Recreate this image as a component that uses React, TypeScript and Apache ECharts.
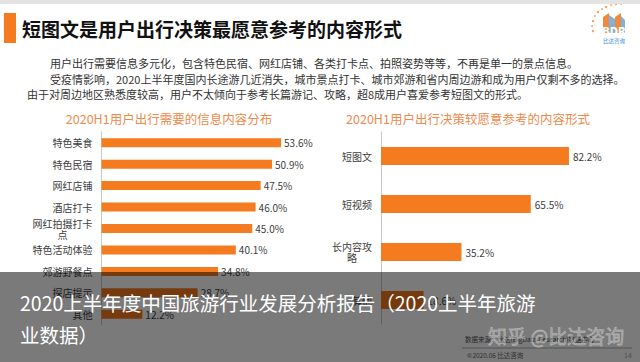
import React, { useEffect, useRef } from "react";
import * as echarts from "echarts";

const pageTitle = "短图文是用户出行决策最愿意参考的内容形式";
const bodyLines = [
  "用户出行需要信息多元化，包含特色民宿、网红店铺、各类打卡点、拍照姿势等等，不再是单一的景点信息。",
  "受疫情影响，2020上半年度国内长途游几近消失，城市景点打卡、城市郊游和省内周边游和成为用户仅剩不多的选择。",
  "由于对周边地区熟悉度较高，用户不太倾向于参考长篇游记、攻略，超8成用户喜爱参考短图文的形式。",
];
const leftTitle = "2020H1用户出行需要的信息内容分布";
const leftCategories = ["特色美食", "特色民宿", "网红店铺", "酒店打卡", "网红拍摄打卡\n点", "特色活动体验", "郊游野餐点", "探店提示", "其他"];
const leftValues = [53.6, 50.9, 47.5, 46.0, 45.0, 40.1, 34.8, 28.7, 12.2];
const rightTitle = "2020H1用户出行决策较愿意参考的内容形式";
const rightCategories = ["短图文", "短视频", "长内容攻\n略", "其他"];
const rightValues = [82.2, 65.5, 35.2, 18.6];
const overlayLines = ["2020上半年度中国旅游行业发展分析报告（2020上半年旅游", "业数据）"];
const footerSource = "数据来源：比达(BigData-Research)数据中心";
const footerCopy = "©2020.06 比达咨询";
const pageNo = "14";
const watermark = "知乎 @比达咨询";

const FONT = "'Noto Sans CJK SC', 'Noto Sans', sans-serif";
const ORANGE = "#F47B20";
const TITLE_ORANGE = "#EE8A4C";

function catFormatter(v: string) {
  if (v.indexOf("\n") < 0) return v;
  return v
    .split("\n")
    .map((l) => "{m|" + l + "}")
    .join("\n");
}

export default function App() {
  const ref = useRef<HTMLDivElement>(null);
  useEffect(() => {
    if (!ref.current) return;
    const chart = echarts.init(ref.current, undefined, { renderer: "svg" });

    const dots: any[] = [];
    const dotPts = [
      [593, 31], [592, 26], [593, 21], [595, 16], [598, 12], [602, 9], [606, 7], [611, 5], [616, 4], [621, 4],
    ];
    dotPts.forEach((p, i) =>
      dots.push({ type: "circle", shape: { cx: p[0], cy: p[1], r: i % 2 ? 0.9 : 1.2 }, style: { fill: "#F5A05A" } })
    );

    const axisLabelBase = {
      fontSize: 10,
      color: "#404040",
      fontFamily: FONT,
      lineHeight: 11,
      margin: 9,
      formatter: catFormatter,
    };

    chart.setOption({
      animation: false,
      backgroundColor: "#ffffff",
      textStyle: { fontFamily: FONT },
      grid: [
        { left: 101.5, top: 132, width: 201, height: 193 },
        { left: 381, top: 132, width: 205.8, height: 192 },
      ],
      xAxis: [
        { gridIndex: 0, type: "value", min: 0, max: 60, show: false },
        { gridIndex: 1, type: "value", min: 0, max: 90, show: false },
      ],
      yAxis: [
        {
          gridIndex: 0,
          type: "category",
          inverse: true,
          data: leftCategories,
          axisLine: { show: true, lineStyle: { color: "#c8c8c8", width: 1 } },
          axisTick: { show: false },
          axisLabel: { ...axisLabelBase, rich: { m: { width: 60, align: "center", fontSize: 10, lineHeight: 11, color: "#404040", fontFamily: FONT } } },
        },
        {
          gridIndex: 1,
          type: "category",
          inverse: true,
          data: rightCategories,
          axisLine: { show: true, lineStyle: { color: "#c8c8c8", width: 1 } },
          axisTick: { show: false },
          axisLabel: { ...axisLabelBase, rich: { m: { width: 40, align: "center", fontSize: 10, lineHeight: 11, color: "#404040", fontFamily: FONT } } },
        },
      ],
      series: [
        {
          type: "bar",
          xAxisIndex: 0,
          yAxisIndex: 0,
          data: leftValues,
          barWidth: 9,
          itemStyle: { color: ORANGE },
          label: {
            show: true,
            position: "right",
            distance: 3,
            fontSize: 10,
            color: "#404040",
            fontFamily: FONT,
            formatter: (p: any) => p.value.toFixed(1) + "%",
          },
        },
        {
          type: "bar",
          xAxisIndex: 1,
          yAxisIndex: 1,
          data: rightValues,
          barWidth: 18,
          itemStyle: { color: ORANGE },
          label: {
            show: true,
            position: "right",
            distance: 4,
            fontSize: 10,
            color: "#404040",
            fontFamily: FONT,
            formatter: (p: any) => p.value.toFixed(1) + "%",
          },
        },
      ],
      graphic: [
        { type: "rect", z: 1, shape: { x: 0, y: 0, width: 640, height: 4 }, style: { fill: "#e4e4e4" } },
        { type: "rect", z: 1, shape: { x: 4, y: 13, width: 12, height: 30 }, style: { fill: "#F47B20" } },
        {
          type: "text",
          z: 1,
          x: 22,
          y: 28,
          style: { text: pageTitle, fontSize: 19, fontWeight: "bold", fill: "#111", fontFamily: FONT, verticalAlign: "middle" },
        },
        { type: "text", z: 1, x: 50, y: 63, style: { text: bodyLines[0], fontSize: 11, fill: "#333", fontFamily: FONT, verticalAlign: "middle" } },
        { type: "text", z: 1, x: 50, y: 78.5, style: { text: bodyLines[1], fontSize: 11, fill: "#333", fontFamily: FONT, verticalAlign: "middle" } },
        { type: "text", z: 1, x: 27, y: 94, style: { text: bodyLines[2], fontSize: 11, fill: "#333", fontFamily: FONT, verticalAlign: "middle" } },
        {
          type: "text",
          z: 1,
          x: 169,
          y: 118,
          style: { text: leftTitle, fontSize: 12.5, fill: TITLE_ORANGE, fontFamily: FONT, align: "center", verticalAlign: "middle" },
        },
        {
          type: "text",
          z: 1,
          x: 468,
          y: 118,
          style: { text: rightTitle, fontSize: 12.5, fill: TITLE_ORANGE, fontFamily: FONT, align: "center", verticalAlign: "middle" },
        },
        // logo
        ...dots,
        { type: "polygon", z: 1, shape: { points: [[603, 33], [603, 17], [609, 13], [609, 33]] }, style: { fill: "#F08A3A" } },
        { type: "polygon", z: 1, shape: { points: [[609, 33], [609, 15], [615, 19], [615, 33]] }, style: { fill: "#7FB2DE" } },
        { type: "polygon", z: 1, shape: { points: [[615, 33], [615, 17], [621, 13], [621, 33]] }, style: { fill: "#F08A3A" } },
        { type: "polygon", z: 1, shape: { points: [[621, 33], [621, 16], [625, 20], [625, 33]] }, style: { fill: "#7FB2DE" } },
        {
          type: "text",
          z: 2,
          x: 614,
          y: 31,
          style: { text: "BDR", fontSize: 10, fontWeight: "bold", fill: "#ffffff", fontFamily: "'DejaVu Sans', sans-serif", align: "center", verticalAlign: "middle" },
        },
        {
          type: "text",
          z: 1,
          x: 614,
          y: 41,
          style: { text: "比达咨询", fontSize: 5.5, fill: "#3E8FD0", fontFamily: FONT, align: "center", verticalAlign: "middle" },
        },
        // footer (under overlay)
        { type: "text", z: 1, x: 465, y: 339, style: { text: footerSource, fontSize: 6.5, fill: "#555", fontFamily: FONT, verticalAlign: "middle" } },
        { type: "line", z: 1, shape: { x1: 462, y1: 348, x2: 632, y2: 348 }, style: { stroke: "#999", lineWidth: 0.8 } },
        { type: "text", z: 1, x: 467, y: 355, style: { text: footerCopy, fontSize: 6.5, fill: "#666", fontFamily: FONT, verticalAlign: "middle" } },
        { type: "text", z: 1, x: 624, y: 355, style: { text: pageNo, fontSize: 7, fill: "#aaa", fontFamily: FONT, verticalAlign: "middle" } },
        // overlay
        { type: "rect", z: 100, shape: { x: 0, y: 272, width: 640, height: 90 }, style: { fill: "rgba(0,0,0,0.52)" } },
        {
          type: "text",
          z: 101,
          x: 20,
          y: 302,
          style: { text: overlayLines[0], fontSize: 19.5, fill: "#ffffff", fontFamily: FONT, verticalAlign: "middle" },
        },
        {
          type: "text",
          z: 101,
          x: 20,
          y: 334,
          style: { text: overlayLines[1], fontSize: 19.5, fill: "#ffffff", fontFamily: FONT, verticalAlign: "middle" },
        },
        {
          type: "text",
          z: 102,
          x: 488,
          y: 335,
          style: {
            text: watermark,
            fontSize: 19,
            fill: "rgba(255,255,255,0.18)",
            stroke: "rgba(255,255,255,0.35)",
            lineWidth: 0.8,
            fontFamily: FONT,
            verticalAlign: "middle",
          },
        },
      ],
    });
    return () => chart.dispose();
  }, []);
  return <div ref={ref} style={{ position: "fixed", left: 0, top: 0, width: 640, height: 362 }} />;
}
